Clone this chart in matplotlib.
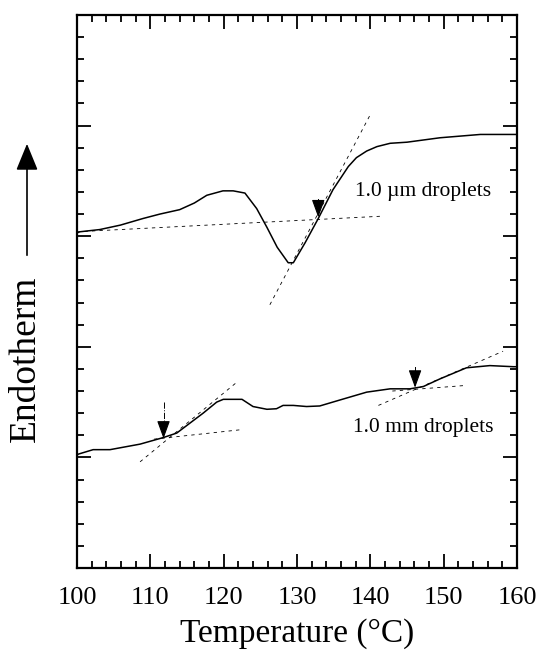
import matplotlib
matplotlib.use('Agg')
import matplotlib.pyplot as plt
from matplotlib.ticker import MultipleLocator

##### data #####
# 1.0 um droplets (upper trace)
um_x = [100, 100.4, 103.1, 105.9, 109.0, 111.3, 114.0, 116.0, 117.7, 119.9, 121.3, 122.9,
        124.5, 125.9, 127.3, 128.8, 129.5, 131.1, 132.9, 134.9, 137.0, 138.1, 139.5,
        140.9, 142.7, 145.0, 149.5, 155.0, 159.3, 160]
um_y = [3.03, 3.04, 3.06, 3.10, 3.16, 3.20, 3.24, 3.30, 3.37, 3.41, 3.41, 3.39,
        3.25, 3.08, 2.90, 2.76, 2.76, 2.94, 3.16, 3.42, 3.63, 3.71, 3.77,
        3.81, 3.84, 3.85, 3.89, 3.92, 3.92, 3.92]

# 1.0 mm droplets (lower trace)
mm_x = [100, 100.2, 102.2, 104.5, 108.6, 111.8, 113.6, 115.0, 117.2, 119.05, 119.95, 122.5,
        124.0, 125.9, 127.2, 128.1, 129.5, 131.3, 133.1, 135.9, 139.5, 142.7, 145.4,
        147.2, 149.5, 153.1, 156.3, 159.5, 160]
mm_y = [1.02, 1.03, 1.07, 1.07, 1.12, 1.18, 1.22, 1.29, 1.40, 1.50, 1.525, 1.525,
        1.46, 1.435, 1.44, 1.47, 1.47, 1.46, 1.465, 1.52, 1.59, 1.62, 1.62,
        1.64, 1.71, 1.81, 1.83, 1.82, 1.82]

# construction lines (x pair, y pair)
um_base = ([100, 141.3], [3.04, 3.18])
um_tang = ([126.3, 140.0], [2.38, 4.10])
mm_base1 = ([110.5, 122.3], [1.165, 1.25])
mm_tang1 = ([108.6, 121.8], [0.96, 1.68])
mm_tang2 = ([141.1, 158.1], [1.47, 1.96])
mm_base2 = ([143.0, 152.9], [1.60, 1.65])

# onset arrows: x, tip y, tail y, stem style
arrows = [(132.9, 3.17, 3.34, '-'), (111.8, 1.17, 1.50, '-.'), (146.1, 1.63, 1.82, '-')]

labels = [(137.9, 3.40, '1.0 µm droplets'), (137.6, 1.27, '1.0 mm droplets')]
##### data end #####

plt.rcParams['font.family'] = ['Liberation Serif', 'DejaVu Serif']

fig = plt.figure(figsize=(5.42, 6.59), dpi=100)
ax = fig.add_axes([77 / 542, 91 / 659, 440 / 542, 553 / 659])

ax.plot(um_x, um_y, color='black', lw=1.1)
ax.plot(mm_x, mm_y, color='black', lw=1.1)

for xs, ys in [um_base, um_tang, mm_base1, mm_tang1, mm_tang2, mm_base2]:
    ax.plot(xs, ys, color='black', lw=0.6, ls=(0, (4, 5)))

for x, tip, tail, st in arrows:
    ax.plot([x, x], [tail, tip + 0.1], color='black', lw=0.7, ls=st)
    ax.annotate('', xy=(x, tip), xytext=(x, tip + 0.15),
                arrowprops=dict(arrowstyle='-|>,head_length=1.1,head_width=0.4',
                                color='black', lw=0.8, shrinkA=0, shrinkB=0))

for x, y, s in labels:
    ax.text(x, y, s, fontsize=15.5, va='center', ha='left')

ax.set_xlim(100, 160)
ax.set_ylim(0, 5)
ax.xaxis.set_major_locator(MultipleLocator(10))
ax.xaxis.set_minor_locator(MultipleLocator(2))
ax.yaxis.set_major_locator(MultipleLocator(1))
ax.yaxis.set_minor_locator(MultipleLocator(0.2))
ax.tick_params(which='both', direction='in', top=True, right=True, width=1.3)
ax.tick_params(which='major', length=10, labelsize=19, pad=14)
ax.tick_params(which='minor', length=5)
ax.tick_params(axis='y', labelleft=False)
for sp in ax.spines.values():
    sp.set_linewidth(1.6)

ax.set_xlabel('Temperature (°C)', fontsize=24, labelpad=6)

# y label with upward arrow
fig.text(26 / 542, 1 - 359 / 659, 'Endotherm', rotation=90, fontsize=27,
         ha='center', va='center')
fig.patches.append(matplotlib.patches.FancyArrowPatch(
    (27 / 542, 1 - 258 / 659), (27 / 542, 1 - 141 / 659),
    transform=fig.transFigure, arrowstyle='-|>,head_length=1.1,head_width=0.45',
    color='black', lw=1.2, mutation_scale=15))

plt.savefig('out.png', dpi=100)
